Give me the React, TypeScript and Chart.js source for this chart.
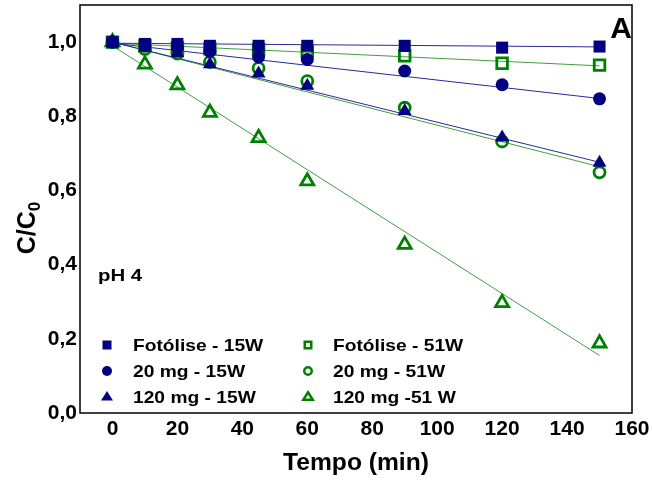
import React, { useEffect, useRef } from "react";
import { Chart, registerables } from "chart.js";

Chart.register(...registerables);

const timeMin = [0, 10, 20, 30, 45, 60, 90, 120, 150];
const fot15 = [1.0, 0.995, 0.995, 0.99, 0.99, 0.99, 0.99, 0.985, 0.988];
const fot51 = [1.0, 0.99, 0.985, 0.982, 0.98, 0.975, 0.963, 0.943, 0.938];
const mg20w15 = [1.0, 0.99, 0.985, 0.975, 0.96, 0.953, 0.922, 0.885, 0.847];
const mg120w15 = [1.0, 0.985, 0.97, 0.94, 0.915, 0.882, 0.814, 0.743, 0.675];
const mg20w51 = [1.0, 0.981, 0.969, 0.946, 0.93, 0.895, 0.823, 0.732, 0.649];
const mg120w51 = [1.0, 0.94, 0.884, 0.81, 0.742, 0.625, 0.454, 0.297, 0.188];

const fitX = [0, 150];
const fot15Fit = [0.997, 0.987];
const fot51Fit = [0.997, 0.936];
const mg20w15Fit = [0.997, 0.848];
const mg120w15Fit = [1.0, 0.676];
const mg20w51Fit = [1.0, 0.664];
const mg120w51Fit = [0.99, 0.155];

const xTicks = [0, 20, 40, 60, 80, 100, 120, 140, 160];
const yTicks = [0, 0.2, 0.4, 0.6, 0.8, 1.0];

const seriesLabels = [
  "Fotólise - 15W",
  "20 mg - 15W",
  "120 mg - 15W",
  "Fotólise - 51W",
  "20 mg - 51W",
  "120 mg -51 W",
];

const NAVY = "#000080";
const GREEN = "#008000";
const NAVY_LINE = "#2a2a96";
const GREEN_LINE = "#3f9f3f";
const FONT = "'Liberation Sans', Arial, sans-serif";

const toPts = (ys: number[], xs: number[]) => xs.map((x, i) => ({ x, y: ys[i] }));

function drawMarker(ctx: CanvasRenderingContext2D, kind: string, filled: boolean, color: string, x: number, y: number, s: number) {
  ctx.save();
  ctx.fillStyle = color;
  ctx.strokeStyle = color;
  ctx.lineWidth = 2.5;
  ctx.beginPath();
  if (kind === "rect") {
    if (filled) ctx.rect(x - s, y - s, 2 * s, 2 * s);
    else ctx.rect(x - s + 1.25, y - s + 1.25, 2 * s - 2.5, 2 * s - 2.5);
  } else if (kind === "circle") {
    ctx.arc(x, y, filled ? s : s - 1.25, 0, Math.PI * 2);
  } else {
    const r = filled ? s : s - 1.25;
    ctx.moveTo(x, y - r);
    ctx.lineTo(x + r * 0.866 * 1.15, y + r * 0.6);
    ctx.lineTo(x - r * 0.866 * 1.15, y + r * 0.6);
    ctx.closePath();
  }
  if (filled) ctx.fill();
  else ctx.stroke();
  ctx.restore();
}

function wideText(ctx: CanvasRenderingContext2D, text: string, x: number, y: number, sx: number) {
  ctx.save();
  ctx.translate(x, y);
  ctx.scale(sx, 1);
  ctx.fillText(text, 0, 0);
  ctx.restore();
}

const PLOT_TOP = 5;

const overlayPlugin = {
  id: "overlay",
  afterLayout(chart: any) {
    const y = chart.scales.y;
    y.top = PLOT_TOP;
    y.height = y.bottom - PLOT_TOP;
    y.configure();
    chart.chartArea.top = PLOT_TOP;
    chart.chartArea.height = chart.chartArea.bottom - PLOT_TOP;
  },
  afterDraw(chart: any) {
    const { ctx, chartArea } = chart;
    const { left, right, top, bottom } = chartArea;
    ctx.save();
    // frame
    ctx.strokeStyle = "#000";
    ctx.lineWidth = 1.5;
    ctx.strokeRect(left, top, right - left, bottom - top);

    // "A"
    ctx.fillStyle = "#000";
    ctx.font = `bold 30px ${FONT}`;
    ctx.textAlign = "right";
    ctx.textBaseline = "alphabetic";
    ctx.fillText("A", right, 38);

    // pH 4
    ctx.font = `bold 17px ${FONT}`;
    ctx.textAlign = "left";
    ctx.textBaseline = "middle";
    wideText(ctx, "pH 4", 98, 276, 1.2);

    // legend
    const rows = [345, 371, 397];
    const kinds = ["rect", "circle", "triangle"];
    const sizes = [4.5, 5, 6];
    ctx.font = `bold 17px ${FONT}`;
    for (let i = 0; i < 3; i++) {
      drawMarker(ctx, kinds[i], true, NAVY, 107, rows[i], sizes[i]);
      ctx.fillStyle = "#000";
      wideText(ctx, seriesLabels[i], 133, rows[i] + 1, 1.13);
      drawMarker(ctx, kinds[i], false, GREEN, 308, rows[i], sizes[i]);
      ctx.fillStyle = "#000";
      wideText(ctx, seriesLabels[i + 3], 333, rows[i] + 1, 1.13);
    }

    // x title
    ctx.font = `bold 23px ${FONT}`;
    ctx.textAlign = "center";
    ctx.textBaseline = "middle";
    wideText(ctx, "Tempo (min)", 356, 464, 1.07);

    // y title C/C0
    ctx.translate(27, 228);
    ctx.rotate(-Math.PI / 2);
    const main = "C/C";
    ctx.font = `bold 25px ${FONT}`;
    const wMain = ctx.measureText(main).width;
    ctx.font = `bold 17px ${FONT}`;
    const wSub = ctx.measureText("0").width;
    const total = wMain + wSub;
    ctx.textAlign = "left";
    ctx.textBaseline = "alphabetic";
    ctx.font = `bold 25px ${FONT}`;
    ctx.fillText(main, -total / 2, 8);
    ctx.font = `bold 17px ${FONT}`;
    ctx.fillText("0", -total / 2 + wMain, 13);
    ctx.restore();
  },
};

export default function App() {
  const ref = useRef<HTMLCanvasElement>(null);
  useEffect(() => {
    if (!ref.current) return;
    const pointDs = (label: string, ys: number[], style: string, filled: boolean, color: string, radius: number) => ({
      label,
      data: toPts(ys, timeMin),
      showLine: false,
      pointStyle: style,
      pointRadius: radius,
      pointBorderWidth: filled ? 0 : 2.8,
      pointBackgroundColor: filled ? color : "rgba(0,0,0,0)",
      pointBorderColor: color,
      order: 1,
    });
    const lineDs = (ys: number[], color: string) => ({
      label: "",
      data: toPts(ys, fitX),
      showLine: true,
      borderColor: color,
      borderWidth: 1,
      pointRadius: 0,
      fill: false,
      order: 2,
    });
    const chart = new Chart(ref.current, {
      type: "scatter",
      data: {
        datasets: [
          pointDs(seriesLabels[0], fot15, "rect", true, NAVY, 8.5),
          pointDs(seriesLabels[1], mg20w15, "circle", true, NAVY, 6.5),
          pointDs(seriesLabels[2], mg120w15, "triangle", true, NAVY, 8),
          pointDs(seriesLabels[3], fot51, "rect", false, GREEN, 7.5),
          pointDs(seriesLabels[4], mg20w51, "circle", false, GREEN, 5.5),
          pointDs(seriesLabels[5], mg120w51, "triangle", false, GREEN, 7.5),
          lineDs(fot15Fit, NAVY_LINE),
          lineDs(mg20w15Fit, NAVY_LINE),
          lineDs(mg120w15Fit, NAVY_LINE),
          lineDs(fot51Fit, GREEN_LINE),
          lineDs(mg20w51Fit, GREEN_LINE),
          lineDs(mg120w51Fit, GREEN_LINE),
        ] as any,
      },
      options: {
        responsive: false,
        animation: false,
        layout: { padding: { top: 0, right: 20, left: 0, bottom: 0 } },
        plugins: { legend: { display: false }, tooltip: { enabled: false } },
        scales: {
          x: {
            type: "linear",
            min: -10,
            max: 160,
            grid: { display: false, drawTicks: false },
            border: { display: false },
            afterBuildTicks: (s: any) => {
              s.ticks = xTicks.map((v) => ({ value: v }));
            },
            afterFit: (s: any) => {
              s.height = 68;
              s.paddingLeft = 0;
              s.paddingRight = 0;
            },
            ticks: {
              color: "#000",
              padding: 4,
              maxRotation: 0,
              autoSkip: false,
              font: { family: FONT, size: 21, weight: "bold" },
              callback: (v: any) => String(v),
            },
          },
          y: {
            type: "linear",
            min: 0,
            max: 1.1,
            grid: { display: false, drawTicks: false },
            border: { display: false },
            afterBuildTicks: (s: any) => {
              s.ticks = yTicks.map((v) => ({ value: v }));
            },
            afterFit: (s: any) => {
              s.width = 80;
            },
            ticks: {
              color: "#000",
              padding: 3,
              autoSkip: false,
              font: { family: FONT, size: 21, weight: "bold" },
              callback: (v: any) => Number(v).toFixed(1).replace(".", ","),
            },
          },
        },
      },
      plugins: [overlayPlugin],
    });
    return () => chart.destroy();
  }, []);
  return (
    <div style={{ position: "fixed", left: 0, top: 0, width: 652, height: 481, background: "#fff" }}>
      <canvas ref={ref} width={652} height={481} />
    </div>
  );
}
